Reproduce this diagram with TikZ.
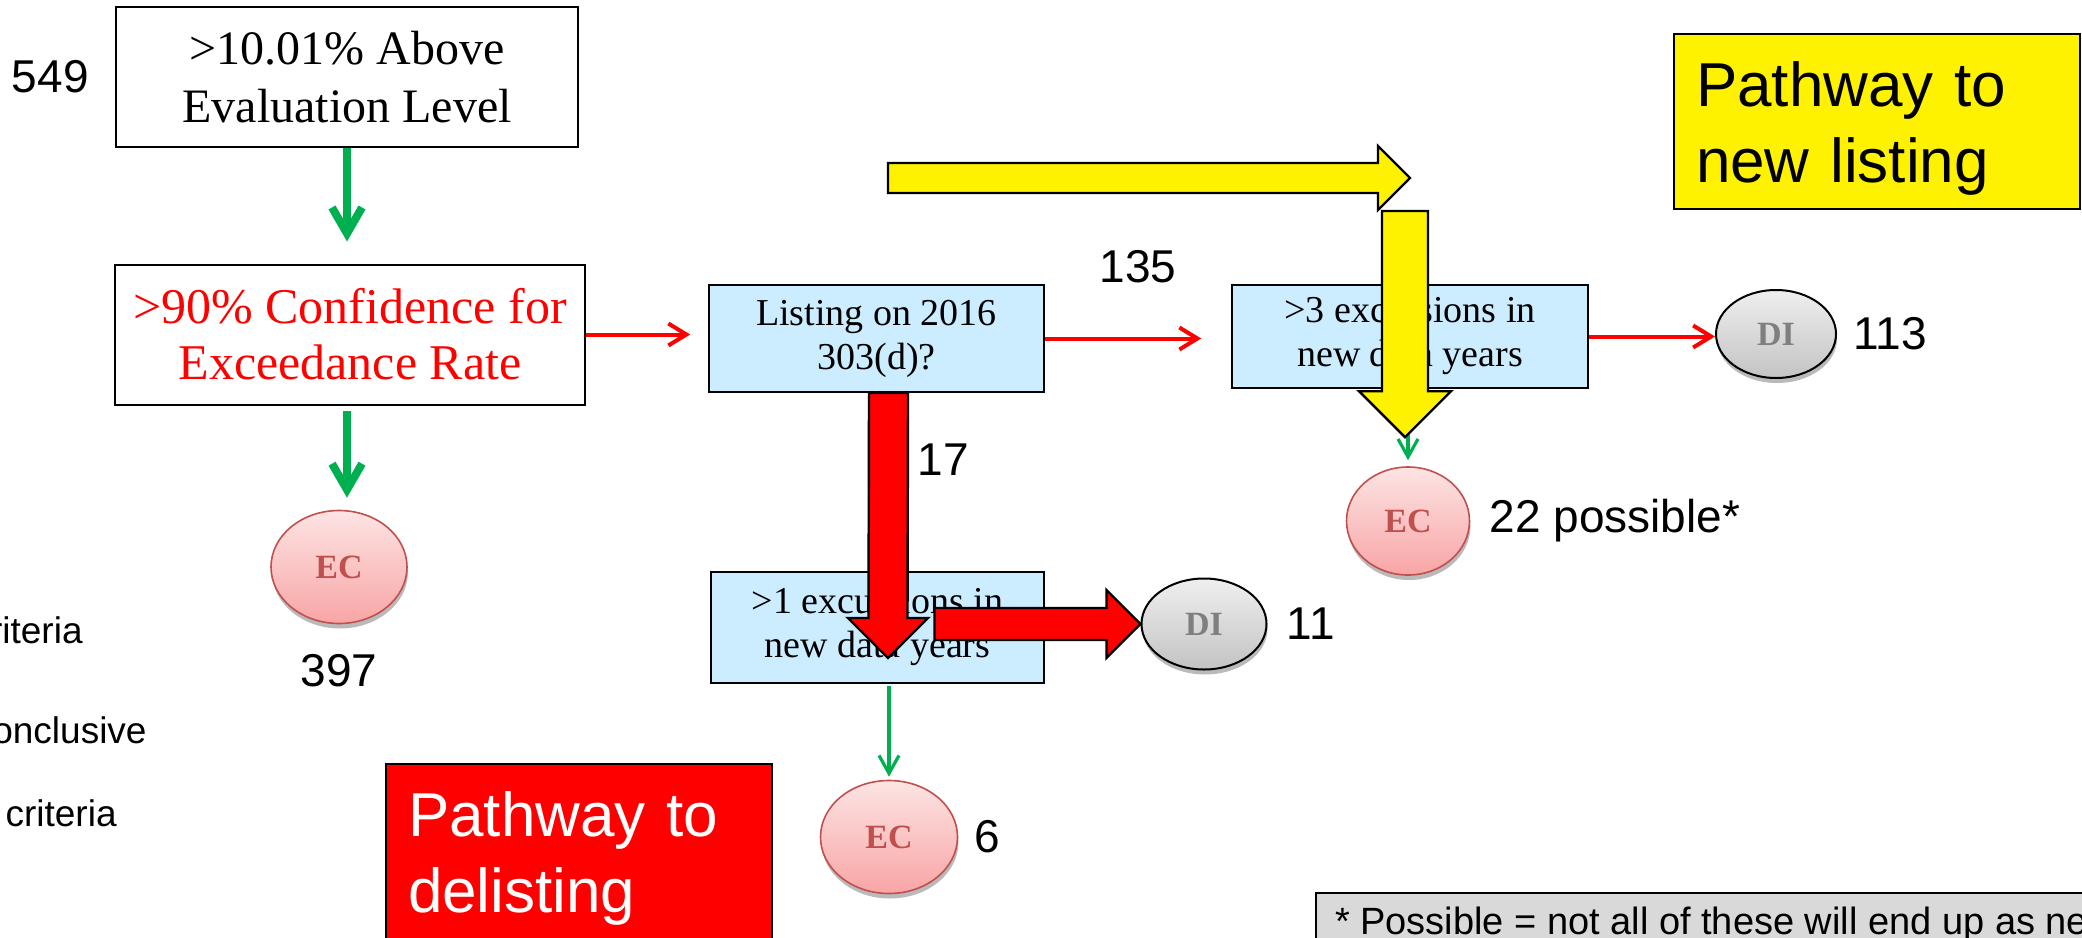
\documentclass[tikz,border=0pt]{standalone}
\usepackage{fontspec}
\setmainfont{Liberation Serif}
\setsansfont{Liberation Sans}
\usetikzlibrary{arrows.meta, positioning, calc, shapes.geometric, shadows}

\definecolor{okgreen}{HTML}{00B050}
\definecolor{qblue}{HTML}{CCECFF}
\definecolor{ecline}{HTML}{C0504D}
\definecolor{ectop}{HTML}{FDE4E4}
\definecolor{ecbot}{HTML}{F8A5A5}
\definecolor{ditop}{HTML}{EFEFEF}
\definecolor{dibot}{HTML}{C3C3C3}
\definecolor{ditext}{HTML}{7F7F7F}
\definecolor{notegray}{HTML}{D9D9D9}

% dicke Blockpfeile: Stil, Start, Spitze, halbe Schaftbreite, halbe Kopfbreite
\newcommand{\blockright}[5]{%
  \draw[#1] ($(#2)+(0,-#4)$) -- ($(#3)+(-#5,-#4)$) -- ($(#3)+(-#5,-#5)$) -- (#3)
    -- ($(#3)+(-#5,#5)$) -- ($(#3)+(-#5,#4)$) -- ($(#2)+(0,#4)$) -- cycle;}
\newcommand{\blockdown}[5]{%
  \draw[#1] ($(#2)+(-#4,0)$) -- ($(#3)+(-#4,-#5)$) -- ($(#3)+(-#5,-#5)$) -- (#3)
    -- ($(#3)+(#5,-#5)$) -- ($(#3)+(#4,-#5)$) -- ($(#2)+(#4,0)$) -- cycle;}

\begin{document}
\begin{tikzpicture}[x=0.5pt, y=-0.5pt,
    crit/.style={draw, line width=1pt, fill=white, minimum height=70pt, align=center},
    qbox/.style={draw, line width=0.8pt, fill=qblue, align=center, font=\fontsize{19}{22}\selectfont},
    ecnode/.style={ellipse, draw=ecline, line width=0.8pt, top color=ectop, bottom color=ecbot,
      text=ecline, font=\bfseries\fontsize{17}{17}\selectfont,
      drop shadow={shadow xshift=0.5pt, shadow yshift=-2.5pt, fill=black!45, opacity=0.6}},
    dinode/.style={ellipse, draw=black, line width=1pt, top color=ditop, bottom color=dibot,
      text=ditext, font=\bfseries\fontsize{17}{17}\selectfont,
      drop shadow={shadow xshift=0.5pt, shadow yshift=-2.5pt, fill=black!45, opacity=0.6}},
    num/.style={inner sep=0pt, font=\sffamily\fontsize{23}{23}\selectfont},
    legend/.style={inner sep=0pt, anchor=east, font=\sffamily\fontsize{18.5}{18.5}\selectfont},
    pathbox/.style={draw, line width=1pt, anchor=north west, minimum height=87.5pt, align=left,
      inner xsep=11pt, inner ysep=4pt, text height=29.5pt, font=\sffamily\fontsize{31}{38}\selectfont},
    fatgreen/.style={draw=okgreen, line width=4pt, -{Straight Barb[length=13pt, width=15pt]}},
    thinred/.style={draw=red, line width=2pt, -{Straight Barb[length=9pt, width=11pt]}},
    thingreen/.style={draw=okgreen, line width=1.6pt, -{Straight Barb[length=9pt, width=10pt]}},
    yblock/.style={draw=black, line width=1.2pt, fill=yellow},
    rblock/.style={draw=black, line width=1.2pt, fill=red}]

    \useasboundingbox (0,0) rectangle (2082,937);
    \clip (0,0) rectangle (2082,937);

    % Legende (links abgeschnitten)
    \node[legend] (lg1) at (83,630) {riteria};
    \node[legend] (lg2) at (147,730) {onclusive};
    \node[legend] (lg3) at (117,813) {criteria};

    % Kriterien
    \node[crit, minimum width=231pt, font=\fontsize{24}{29}\selectfont] (above) at (347,77) {>10.01\% Above\\Evaluation Level};
    \node[num, left=13pt of above] (n549) {549};
    \node[crit, minimum width=235pt, text=red, font=\fontsize{25}{28}\selectfont] (conf) at (350,334.5) {>90\% Confidence for\\Exceedance Rate};
    \node[ecnode, minimum width=68pt, minimum height=56.5pt] (ec1) at (339,567) {EC};
    \node[num, below=15pt of ec1] (n397) {397};

    % Fragen
    \node[qbox, minimum width=167.5pt, minimum height=53.5pt] (list) at (876.5,338.5) {Listing on 2016\\303(d)?};
    \node[qbox, minimum width=178pt, minimum height=51.5pt] (exc3) at (1410,336.5) {>3 excursions in\\new data years};
    \node[qbox, minimum width=166.5pt, minimum height=55.5pt] (exc1) at (877.5,627.5) {>1 excursions in\\new data years};

    % Ergebnisse
    \node[dinode, minimum width=60pt, minimum height=44pt] (di2) at (1776,334) {DI};
    \node[num, right=8pt of di2] (n113) {113};
    \node[ecnode, minimum width=61.5pt, minimum height=54pt] (ec22) at (1408,521) {EC};
    \node[num, right=9.5pt of ec22] (n22) {22 possible*};
    \node[dinode, minimum width=62.5pt, minimum height=45.5pt] (di11) at (1204,624) {DI};
    \node[num, right=9.5pt of di11] (n11) {11};
    \node[ecnode, minimum width=68.5pt, minimum height=56.5pt] (ec6) at (889,837) {EC};
    \node[num, right=8pt of ec6] (n6) {6};
    \node[num] (n17) at (943,460) {17};

    % Pathway-Kaesten
    \node[pathbox, fill=red, text=white, text width=171pt] (del) at (385,763) {Pathway to\\delisting};
    \node[pathbox, fill=yellow, text width=181pt] (newl) at (1673,33) {Pathway to\\new listing};
    \node[draw, line width=1pt, fill=notegray, anchor=north west, inner xsep=9.5pt, inner ysep=7pt,
      font=\sffamily\fontsize{19}{19}\selectfont] (note) at (1315,892) {* Possible = not all of these will end up as new};

    % Verbindungen
    \draw[fatgreen, shorten >=11pt] (above.south) -- (above.south |- conf.north);
    \draw[fatgreen, shorten <=2.5pt, shorten >=6pt] (conf.south -| above.south) -- (ec1.north -| above.south);
    \draw[thinred, shorten >=9pt] (conf.east) -- (conf.east -| list.west);
    \draw[thinred, shorten >=15pt] (list.east) -- node[num, above=27pt] (n135) {135} (list.east -| exc3.west);
    \draw[thinred] (exc3.east) -- (exc3.east -| di2.west);
    \draw[thingreen, shorten <=1pt, shorten >=1.5pt] (ec6.north |- exc1.south) -- (ec6.north);
    \draw[thingreen, shorten >=3pt] (ec22.north |- exc3.south) -- (ec22.north);

    % Blockpfeile
    \coordinate (yhs) at (888,178);
    \coordinate (yhe) at (1410,178);
    \blockright{yblock}{yhs}{yhe}{15}{32}
    \coordinate (yvs) at (1405,211);
    \coordinate (yve) at ($(ec22.north)+(-3,-29)$);
    \blockdown{yblock}{yvs}{yve}{23}{46}
    \coordinate (rvs) at ($(list.south)+(12,0)$);
    \coordinate (rve) at (888,658);
    \blockdown{rblock}{rvs}{rve}{19.5}{40}
    \coordinate (rhs) at ($(di11.west)+(-206,0)$);
    \blockright{rblock}{rhs}{di11.west}{16}{34}
\end{tikzpicture}
\end{document}
